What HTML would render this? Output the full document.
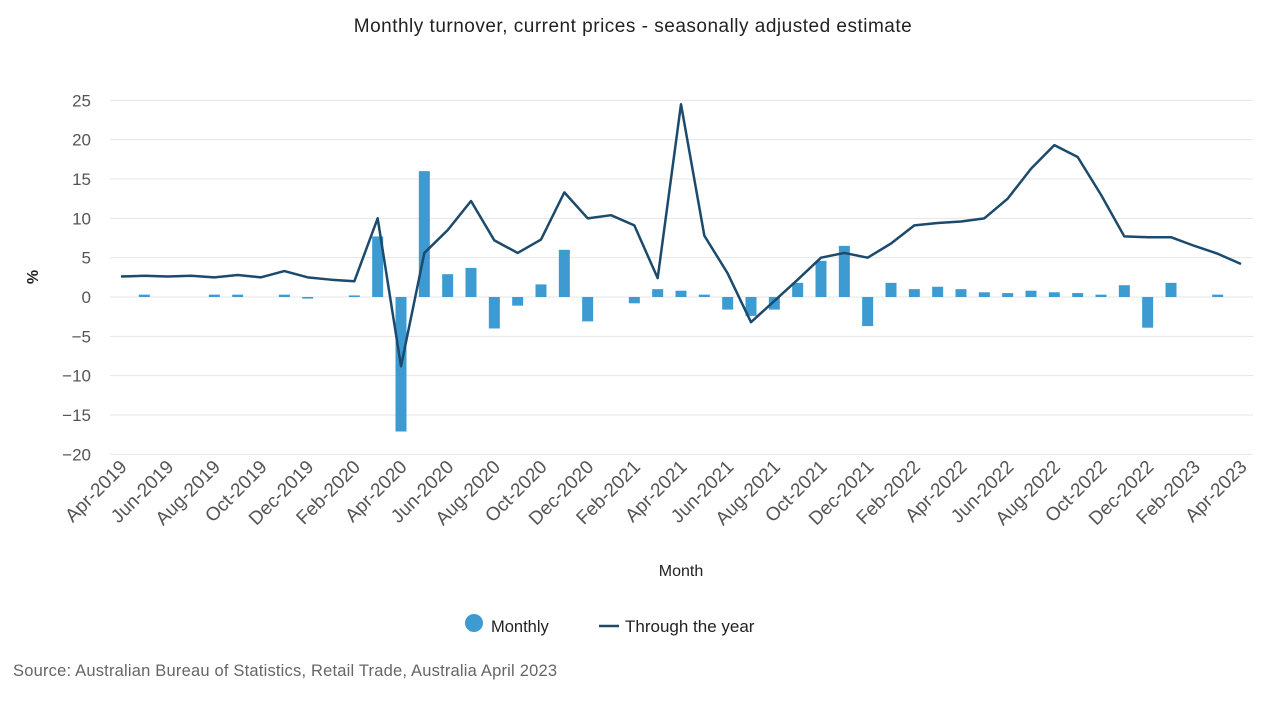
<!DOCTYPE html>
<html><head><meta charset="utf-8"><style>
body{margin:0;background:#fff;font-family:"Liberation Sans",sans-serif;}
</style></head><body>
<svg id="chart" width="1266" height="703" xmlns="http://www.w3.org/2000/svg" font-family="Liberation Sans, sans-serif">
<text x="633" y="32" text-anchor="middle" font-size="19" letter-spacing="0.5" fill="#222">Monthly turnover, current prices - seasonally adjusted estimate</text>
<g id="grid"></g><g id="bars"></g><g id="line"></g><g id="xlabels"></g><g id="ylabels"></g>
<text transform="translate(38,277) rotate(-90)" text-anchor="middle" font-size="16" font-weight="bold" fill="#222">%</text>
<text x="681" y="576" text-anchor="middle" font-size="16" fill="#222">Month</text>
<g>
<g><circle cx="474" cy="623" r="9" fill="#3d9bd1"/><text x="491" y="632" font-size="16.5" fill="#222">Monthly</text></g>
<g><line x1="599" y1="626" x2="619" y2="626" stroke="#1b4a6c" stroke-width="2.5"/><text x="625" y="632" font-size="17" fill="#222">Through the year</text></g>
</g>
<text x="13" y="676" font-size="16.5" letter-spacing="0.2" fill="#666">Source: Australian Bureau of Statistics, Retail Trade, Australia April 2023</text>
</svg>
<script>
const months=["Apr-2019","May-2019","Jun-2019","Jul-2019","Aug-2019","Sep-2019","Oct-2019","Nov-2019","Dec-2019","Jan-2020","Feb-2020","Mar-2020","Apr-2020","May-2020","Jun-2020","Jul-2020","Aug-2020","Sep-2020","Oct-2020","Nov-2020","Dec-2020","Jan-2021","Feb-2021","Mar-2021","Apr-2021","May-2021","Jun-2021","Jul-2021","Aug-2021","Sep-2021","Oct-2021","Nov-2021","Dec-2021","Jan-2022","Feb-2022","Mar-2022","Apr-2022","May-2022","Jun-2022","Jul-2022","Aug-2022","Sep-2022","Oct-2022","Nov-2022","Dec-2022","Jan-2023","Feb-2023","Mar-2023","Apr-2023"];
const monthly=[0,0.3,0,0,0.3,0.3,0,0.3,-0.2,0,0.2,7.7,-17.1,16.0,2.9,3.7,-4.0,-1.1,1.6,6.0,-3.1,0,-0.8,1.0,0.8,0.3,-1.6,-2.4,-1.6,1.8,4.6,6.5,-3.7,1.8,1.0,1.3,1.0,0.6,0.5,0.8,0.6,0.5,0.3,1.5,-3.9,1.8,0,0.3,0];
const throughYear=[2.6,2.7,2.6,2.7,2.5,2.8,2.5,3.3,2.5,2.2,2.0,10.0,-8.8,5.6,8.5,12.2,7.2,5.6,7.3,13.3,10.0,10.4,9.1,2.4,24.5,7.8,3.0,-3.2,-0.5,2.2,5.0,5.6,5.0,6.8,9.1,9.4,9.6,10.0,12.5,16.3,19.3,17.8,13.0,7.7,7.6,7.6,6.5,5.5,4.2];
const yTicks=[25,20,15,10,5,0,-5,-10,-15,-20];
const NS="http://www.w3.org/2000/svg";
const x=i=>121+i*(1241-121)/(months.length-1);
const y=v=>297-v*(354/45);
function mk(t,a,p){const e=document.createElementNS(NS,t);for(const k in a)e.setAttribute(k,a[k]);document.getElementById(p).appendChild(e);return e;}
yTicks.forEach(t=>{
 const g=mk("line",{x1:110,x2:1253,y1:y(t),y2:y(t),stroke:"#e6e6e6","stroke-width":1},"grid");
 
 
 const l=mk("text",{x:91,y:y(t)+6,"text-anchor":"end","font-size":17,fill:"#555"},"ylabels");
 l.textContent=t<0?"\u2212"+(-t):t;
 
 
});
monthly.forEach((v,i)=>{
 const b=mk("rect",{x:x(i)-5.5,y:Math.min(y(v),y(0)),width:11,height:Math.abs(y(v)-y(0)),fill:"#3d9bd1"},"bars");
 
 
});
const pl=mk("polyline",{points:throughYear.map((v,i)=>x(i)+","+y(v)).join(" "),fill:"none",stroke:"#1b4a6c","stroke-width":2.5,"stroke-linejoin":"round"},"line");


months.forEach((m,i)=>{
 if(i%2)return;
 const t=mk("text",{transform:`translate(${x(i)+7},${468}) rotate(-45)`,"text-anchor":"end","font-size":19,fill:"#555"},"xlabels");
 t.textContent=m;
 
 
});
</script>
</body></html>
